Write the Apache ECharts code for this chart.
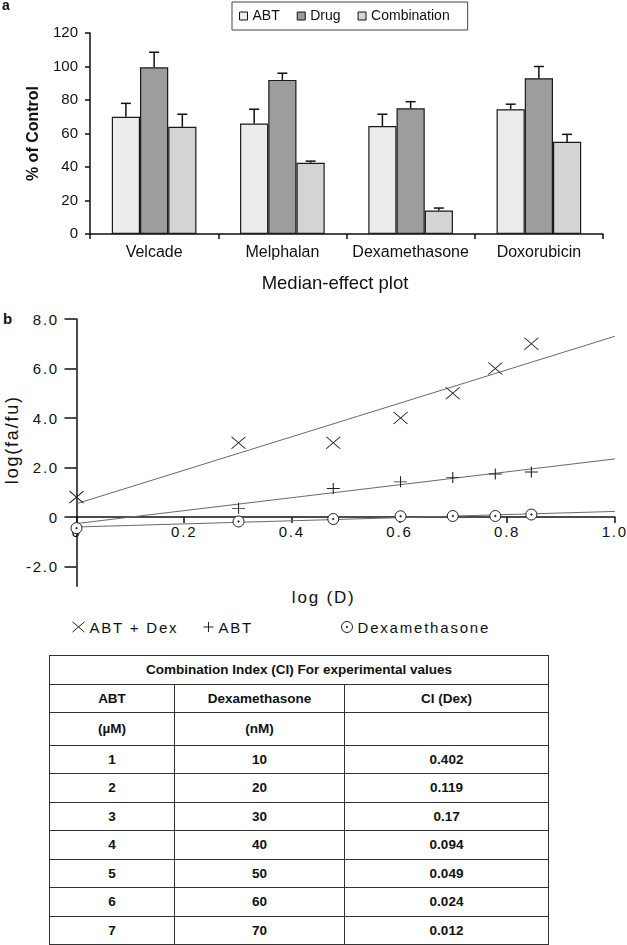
<!DOCTYPE html>
<html>
<head>
<meta charset="utf-8">
<script src="https://cdn.jsdelivr.net/npm/echarts@6/dist/echarts.min.js"></script>
<style>
html,body{margin:0;padding:0;background:#fff;width:627px;height:945px;overflow:hidden;font-family:"Liberation Sans",Arial,sans-serif;}
#chartA{position:absolute;left:0;top:0;width:627px;height:300px;}
#chartB{position:absolute;left:0;top:300px;width:627px;height:345px;}
#chartB text{letter-spacing:1.8px;}
#ciTable{position:absolute;left:49px;top:655px;width:499px;border-collapse:collapse;table-layout:fixed;font:bold 13.5px "Liberation Sans",Arial,sans-serif;color:#111;}
#ciTable td{border:1.5px solid #333;text-align:center;vertical-align:middle;padding:0;}
</style>
</head>
<body>
<div id="chartA"></div>
<div id="chartB"></div>
<table id="ciTable"></table>
<script>
// ---------- Panel a data ----------
const categories = ['Velcade', 'Melphalan', 'Dexamethasone', 'Doxorubicin'];
const abtValues = [70, 66, 64.5, 74.5];
const abtErrors = [8, 8.5, 7, 3];
const drugValues = [99.5, 92, 75, 93];
const drugErrors = [9, 4, 4, 7];
const combinationValues = [64, 42.5, 14, 55];
const combinationErrors = [7.5, 1, 1.5, 4.5];

// ---------- Panel b data ----------
const logD = [0, 0.301, 0.477, 0.602, 0.699, 0.778, 0.845];
const abtDexY = [0.8, 3.0, 3.0, 4.0, 5.0, 6.0, 7.0];
const abtY = [null, 0.35, 1.15, 1.42, 1.6, 1.74, 1.82];
const dexY = [-0.45, -0.18, -0.08, 0.03, 0.04, 0.04, 0.1];
const yTicksB = [-2, 0, 2, 4, 6, 8];

// ---------- Table data ----------
const tableTitle = 'Combination Index (CI) For experimental values';
const tableHeaders = ['ABT', 'Dexamethasone', 'CI (Dex)'];
const tableUnits = ['(\u00B5M)', '(nM)', ''];
const abtDoseUM = [1, 2, 3, 4, 5, 6, 7];
const dexDoseNM = [10, 20, 30, 40, 50, 60, 70];
const ciDex = ['0.402', '0.119', '0.17', '0.094', '0.049', '0.024', '0.012'];

const FONT = '"Liberation Sans", Arial, sans-serif';
const INK = '#111';

// ================= Panel a =================
const GAP = 0.34;
function barSeries(name, values, color) {
  return {
    name: name, type: 'bar', data: values,
    barGap: '0%', barCategoryGap: (GAP * 100) + '%',
    itemStyle: { color: color, borderColor: '#1a1a1a', borderWidth: 1.2 },
    z: 2
  };
}
function errSeries(values, errs, k) {
  return {
    type: 'custom', z: 3, silent: true,
    data: values.map((v, i) => [i, v, errs[i]]),
    encode: { x: 0, y: 1 },
    renderItem: function (params, api) {
      const i = api.value(0), v = api.value(1), e = api.value(2);
      const band = api.size([1, 0])[0];
      const w = band * (1 - GAP) / 3;
      const base = api.coord([i, v]);
      const x = base[0] + (k - 1) * w;
      const top = api.coord([i, v + e])[1];
      const st = { stroke: INK, lineWidth: 1.5 };
      return { type: 'group', children: [
        { type: 'line', shape: { x1: x, y1: base[1], x2: x, y2: top }, style: st },
        { type: 'line', shape: { x1: x - 5, y1: top, x2: x + 5, y2: top }, style: st }
      ]};
    }
  };
}

const chartA = echarts.init(document.getElementById('chartA'), null, { renderer: 'canvas' });
chartA.setOption({
  animation: false,
  backgroundColor: 'transparent',
  textStyle: { fontFamily: FONT },
  legend: {
    data: ['ABT', 'Drug', 'Combination'],
    icon: 'rect',
    left: 232, top: 2, orient: 'horizontal',
    itemWidth: 8, itemHeight: 8, itemGap: 17,
    padding: [7, 18, 7, 7],
    borderColor: '#444', borderWidth: 1,
    selectedMode: false,
    textStyle: { fontSize: 14, color: INK, fontFamily: FONT },
    itemStyle: { borderColor: INK, borderWidth: 1 }
  },
  grid: { left: 90, top: 33, width: 513, height: 201, outerBoundsMode: 'none', containLabel: false },
  xAxis: {
    type: 'category', data: categories,
    axisLine: { show: true, lineStyle: { color: INK, width: 1.5 } },
    axisTick: { show: true, length: 5, lineStyle: { color: INK, width: 1.5 } },
    axisLabel: { fontSize: 16, color: INK, margin: 11, fontFamily: FONT, interval: 0 },
    splitLine: { show: false }
  },
  yAxis: {
    type: 'value', min: 0, max: 120, interval: 20,
    name: '% of Control', nameLocation: 'middle', nameGap: 48,
    nameTextStyle: { fontSize: 16, fontWeight: 'bold', color: INK, fontFamily: FONT },
    axisLine: { show: true, lineStyle: { color: INK, width: 1.5 } },
    axisTick: { show: true, length: 5, lineStyle: { color: INK, width: 1.5 } },
    axisLabel: { fontSize: 15, color: INK, margin: 12, fontFamily: FONT },
    splitLine: { show: false }
  },
  graphic: [
    { type: 'text', x: 2, y: 6, style: { text: 'a', font: 'bold 14px ' + FONT, fill: INK, verticalAlign: 'middle' } },
    { type: 'text', x: 335, y: 284, style: { text: 'Median-effect plot', font: '18.5px ' + FONT, fill: INK, align: 'center', verticalAlign: 'middle' } }
  ],
  series: [
    barSeries('ABT', abtValues, '#ececec'),
    barSeries('Drug', drugValues, '#9d9d9d'),
    barSeries('Combination', combinationValues, '#d4d4d4'),
    errSeries(abtValues, abtErrors, 0),
    errSeries(drugValues, drugErrors, 1),
    errSeries(combinationValues, combinationErrors, 2)
  ]
});

// ================= Panel b =================
function fitLine(xs, ys) {
  const pts = xs.map((x, i) => [x, ys[i]]).filter(p => p[1] !== null);
  const n = pts.length;
  const mx = pts.reduce((s, p) => s + p[0], 0) / n;
  const my = pts.reduce((s, p) => s + p[1], 0) / n;
  let sxx = 0, sxy = 0;
  pts.forEach(p => { sxx += (p[0] - mx) * (p[0] - mx); sxy += (p[0] - mx) * (p[1] - my); });
  const slope = sxy / sxx, icpt = my - slope * mx;
  return [[0, icpt], [1, icpt + slope]];
}
const xPath = 'path://M0,0L14,12M14,0L0,12';
const plusPath = 'path://M6,0L6,12M0,6L12,6';
const ringPath = 'path://M0,6A6,6 0 1 1 12,6A6,6 0 1 1 0,6Z M5.2,6A0.8,0.8 0 1 1 6.8,6A0.8,0.8 0 1 1 5.2,6Z M5.4,6L6.6,6';

function scatter(name, ys, symbol, size, fill) {
  return {
    name: name, type: 'scatter',
    data: logD.map((x, i) => [x, ys[i]]).filter(p => p[1] !== null),
    symbol: symbol, symbolSize: size,
    itemStyle: { color: fill, borderColor: '#222', borderWidth: 1, opacity: 1 },
    z: 4
  };
}
function fitSeries(ys) {
  return {
    type: 'line', data: fitLine(logD, ys), symbol: 'none', silent: true,
    lineStyle: { color: '#6a6a6a', width: 1 }, z: 3
  };
}
const legTxt = { fontSize: 15, color: INK, fontFamily: FONT };
function legendFor(name, icon, left, w, h) {
  return {
    data: [{ name: name, icon: icon }], left: left, top: 319.5, padding: 0,
    itemWidth: w, itemHeight: h, selectedMode: false, textStyle: legTxt,
    itemStyle: { borderColor: '#222', borderWidth: 1 }
  };
}
const tickFmt = v => (v === 0 ? '0' : v.toFixed(1));

// grid geometry for panel b (local px)
const B_TOP = 19, B_HEIGHT = 267.3, B_YMIN = -2.8, B_YMAX = 8;
// x axis sits on y = 0: shift it up from the grid bottom by the span of the negative range
const xAxisOffset = -B_HEIGHT * (0 - B_YMIN) / (B_YMAX - B_YMIN);

const chartB = echarts.init(document.getElementById('chartB'), null, { renderer: 'svg' });
chartB.setOption({
  animation: false,
  backgroundColor: 'transparent',
  textStyle: { fontFamily: FONT },
  grid: { left: 76.5, top: B_TOP, width: 538.3, height: B_HEIGHT, outerBoundsMode: 'none', containLabel: false },
  xAxis: {
    type: 'value', min: 0, max: 1, interval: 0.2,
    position: 'bottom', offset: xAxisOffset,
    name: 'log (D)', nameLocation: 'middle', nameGap: 72, nameMoveOverlap: false,
    nameTextStyle: { fontSize: 17, color: INK, fontFamily: FONT, padding: [0, 44, 0, 0] },
    axisLine: { show: true, onZero: false, lineStyle: { color: INK, width: 1.5 } },
    axisTick: { show: true, length: 6, lineStyle: { color: INK, width: 1.5 } },
    axisLabel: { fontSize: 15, color: INK, margin: 7, fontFamily: FONT, formatter: tickFmt, showMinLabel: true, showMaxLabel: true },
    splitLine: { show: false }
  },
  yAxis: {
    type: 'value', min: B_YMIN, max: B_YMAX,
    name: 'log(fa/fu)', nameLocation: 'middle', nameGap: 56, nameMoveOverlap: false,
    nameTextStyle: { fontSize: 18, color: INK, fontFamily: FONT, padding: [0, 0, 0, 26] },
    axisLine: { show: true, onZero: false, lineStyle: { color: INK, width: 1.5 } },
    axisTick: { show: true, length: 12, customValues: yTicksB, lineStyle: { color: INK, width: 1.5 } },
    axisLabel: { fontSize: 15, color: INK, margin: 17.5, fontFamily: FONT, customValues: yTicksB, formatter: tickFmt },
    splitLine: { show: false }
  },
  legend: [
    legendFor('ABT + Dex', xPath, 72, 12, 11),
    legendFor('ABT', plusPath, 203, 10, 10),
    legendFor('Dexamethasone', ringPath, 341, 11, 11)
  ],
  graphic: [
    { type: 'text', x: 3, y: 18.5, style: { text: 'b', font: 'bold 15px ' + FONT, fill: INK, verticalAlign: 'middle' } }
  ],
  series: [
    fitSeries(abtDexY),
    fitSeries(abtY),
    fitSeries(dexY),
    scatter('ABT + Dex', abtDexY, xPath, [14, 12], 'rgba(0,0,0,0)'),
    scatter('ABT', abtY, plusPath, [13, 11], 'rgba(0,0,0,0)'),
    scatter('Dexamethasone', dexY, ringPath, 11, '#ffffff')
  ]
});

// ================= Table =================
(function buildTable() {
  const t = document.getElementById('ciTable');
  const colW = [125, 170, 204];
  const cg = document.createElement('colgroup');
  colW.forEach(w => { const c = document.createElement('col'); c.style.width = w + 'px'; cg.appendChild(c); });
  t.appendChild(cg);
  function addRow(cells, h, span) {
    const tr = document.createElement('tr');
    tr.style.height = h + 'px';
    cells.forEach(txt => {
      const td = document.createElement('td');
      if (span) td.colSpan = span;
      td.textContent = txt;
      tr.appendChild(td);
    });
    t.appendChild(tr);
  }
  addRow([tableTitle], 28.5, 3);
  addRow(tableHeaders, 28.5);
  addRow(tableUnits, 32.5);
  abtDoseUM.forEach((d, i) => addRow([String(d), String(dexDoseNM[i]), ciDex[i]], 28.5));
})();
</script>
</body>
</html>
